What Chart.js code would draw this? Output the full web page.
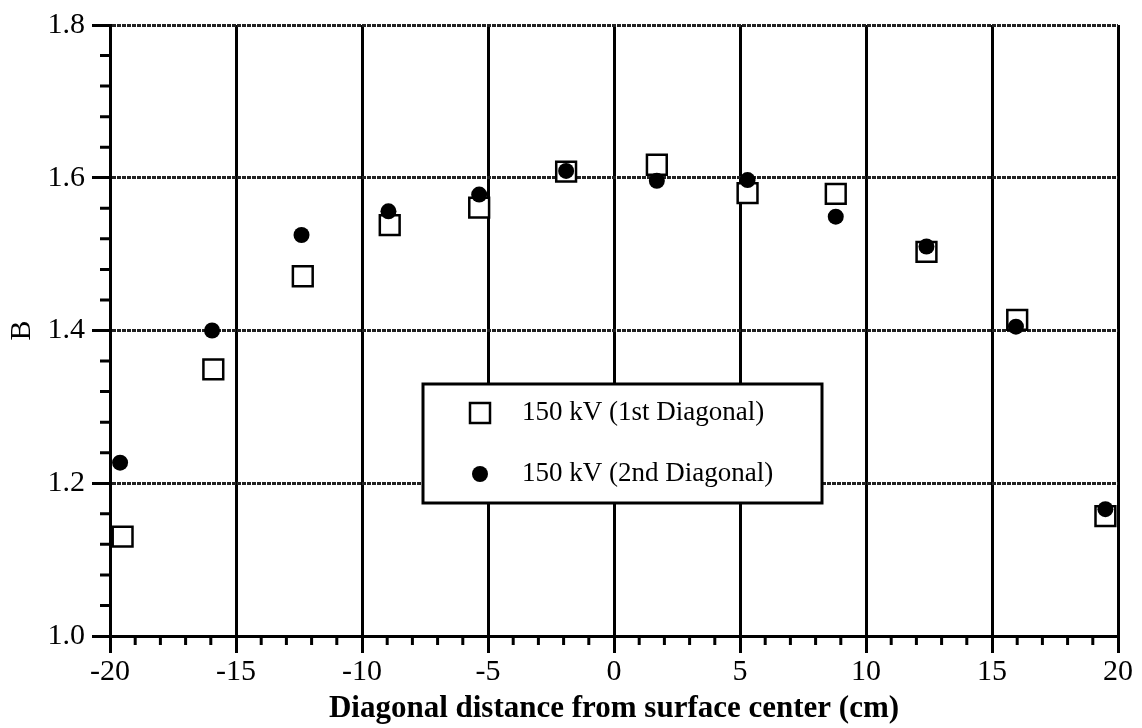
<!DOCTYPE html>
<html>
<head>
<meta charset="utf-8">
<title>B vs diagonal distance</title>
<script src="https://cdn.jsdelivr.net/npm/chart.js@4/dist/chart.umd.min.js"></script>
<style>
  html, body { margin: 0; padding: 0; background: #fff; }
  #wrap { width: 1142px; height: 728px; position: relative; }
</style>
</head>
<body>
<div id="wrap"><canvas id="chart"></canvas></div>
<script>
// values
const xFirst = [-19.5, -15.9, -12.35, -8.9, -5.35, -1.9, 1.7, 5.3, 8.8, 12.4, 16.0, 19.5];
const bFirst = [1.130, 1.349, 1.471, 1.538, 1.561, 1.608, 1.617, 1.580, 1.579, 1.503, 1.414, 1.157];
const xSecond = [-19.6, -15.95, -12.4, -8.95, -5.35, -1.9, 1.7, 5.3, 8.8, 12.4, 15.95, 19.5];
const bSecond = [1.227, 1.400, 1.525, 1.556, 1.578, 1.609, 1.596, 1.597, 1.549, 1.510, 1.405, 1.166];
const seriesLabels = ['150 kV (1st Diagonal)', '150 kV (2nd Diagonal)'];

const xMinorTicks = [];
for (let v = -20; v <= 20; v++) if (v % 5 !== 0) xMinorTicks.push(v);
const yMinorTicks = [];
for (let i = 0; i <= 20; i++) if (i % 5 !== 0) yMinorTicks.push(1 + i * 0.04);

const serif = '"Liberation Serif", "Times New Roman", serif';

const toPoints = (xs, ys) => xs.map((x, i) => ({ x: x, y: ys[i] }));

// small ticks between the labelled ones
const minorTicks = {
    id: 'minorTicks',
    afterDraw(chart) {
        const { ctx, chartArea, scales } = chart;
        ctx.save();
        ctx.strokeStyle = '#000';
        ctx.lineWidth = 3;
        ctx.beginPath();
        xMinorTicks.forEach(v => {
            const px = scales.x.getPixelForValue(v);
            ctx.moveTo(px, chartArea.bottom);
            ctx.lineTo(px, chartArea.bottom + 9);
        });
        yMinorTicks.forEach(v => {
            const py = scales.y.getPixelForValue(v);
            ctx.moveTo(chartArea.left - 10, py);
            ctx.lineTo(chartArea.left, py);
        });
        ctx.stroke();
        ctx.restore();
    }
};

// legend box sitting inside the plot
const boxLegend = {
    id: 'boxLegend',
    afterDraw(chart) {
        const { ctx, chartArea } = chart;
        const left = chartArea.left + 313, top = chartArea.top + 359;
        const w = 399, h = 119;
        ctx.save();
        ctx.fillStyle = '#fff';
        ctx.fillRect(left, top, w, h);
        ctx.strokeStyle = '#000';
        ctx.lineWidth = 3;
        ctx.strokeRect(left, top, w, h);

        ctx.font = '27px ' + serif;
        ctx.fillStyle = '#000';
        ctx.textBaseline = 'middle';
        const rows = [top + 29, top + 90];
        // square marker
        ctx.lineWidth = 2.5;
        ctx.fillStyle = '#fff';
        ctx.fillRect(left + 47, rows[0] - 10, 20, 20);
        ctx.strokeRect(left + 47, rows[0] - 10, 20, 20);
        // dot marker
        ctx.fillStyle = '#000';
        ctx.beginPath();
        ctx.arc(left + 57, rows[1], 8, 0, Math.PI * 2);
        ctx.fill();
        ctx.fillText(seriesLabels[0], left + 99, rows[0]);
        ctx.fillText(seriesLabels[1], left + 99, rows[1]);
        ctx.restore();
    }
};

new Chart(document.getElementById('chart'), {
    type: 'scatter',
    data: {
        datasets: [{
            label: seriesLabels[0],
            data: toPoints(xFirst, bFirst),
            pointStyle: 'rect',
            pointRadius: 14,
            pointBackgroundColor: '#fff',
            pointBorderColor: '#000',
            pointBorderWidth: 2.5,
            order: 2
        }, {
            label: seriesLabels[1],
            data: toPoints(xSecond, bSecond),
            pointStyle: 'circle',
            pointRadius: 8,
            pointBackgroundColor: '#000',
            pointBorderColor: '#000',
            pointBorderWidth: 0,
            order: 1
        }]
    },
    options: {
        responsive: true,
        maintainAspectRatio: false,
        animation: false,
        layout: { padding: { top: 24, right: 24, left: 0, bottom: 0 } },
        plugins: {
            legend: { display: false },
            tooltip: { enabled: false }
        },
        scales: {
            x: {
                min: -20, max: 20,
                afterFit: s => { s.height = 92; },
                ticks: {
                    stepSize: 5,
                    color: '#000',
                    padding: 1,
                    font: { family: serif, size: 30 }
                },
                grid: { color: '#000', lineWidth: 3, tickLength: 17, tickColor: '#000', tickWidth: 3 },
                border: { color: '#000', width: 3 },
                title: {
                    display: true,
                    text: 'Diagonal distance from surface center (cm)',
                    color: '#000',
                    font: { family: serif, size: 31, weight: 'bold' },
                    padding: { top: 0, bottom: 0 }
                }
            },
            y: {
                min: 1.0, max: 1.8,
                afterFit: s => { s.width = 110; },
                ticks: {
                    stepSize: 0.2,
                    color: '#000',
                    padding: 7,
                    font: { family: serif, size: 30 },
                    callback: v => v.toFixed(1)
                },
                grid: { color: '#222', lineWidth: 3, tickLength: 18, tickColor: '#000', tickWidth: 3 },
                border: { color: '#000', width: 3, dash: [4, 1] },
                title: {
                    display: true,
                    text: 'B',
                    color: '#000',
                    font: { family: serif, size: 30 },
                    padding: { top: 4, bottom: 0 }
                }
            }
        }
    },
    plugins: [minorTicks, boxLegend]
});
</script>
</body>
</html>
